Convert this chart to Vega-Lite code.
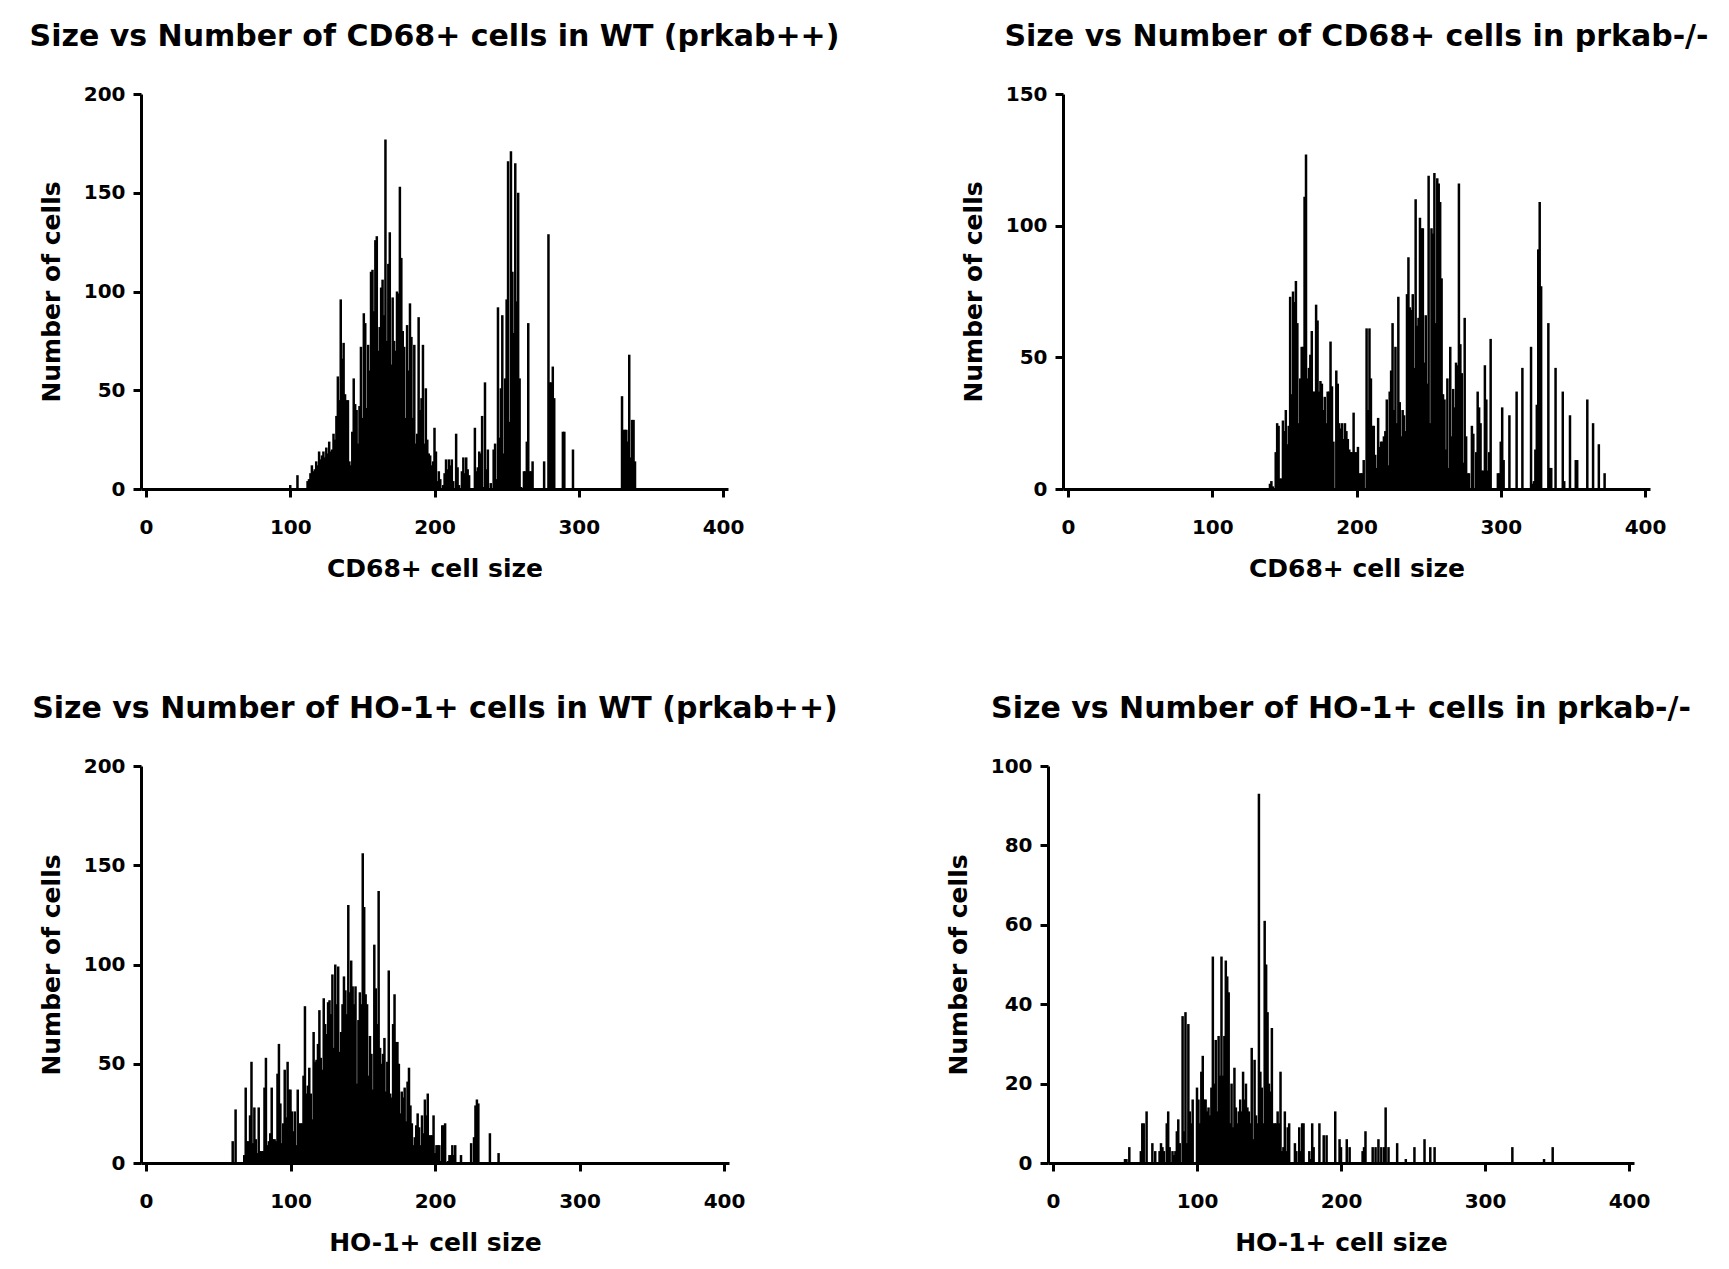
{
  "$schema": "https://vega.github.io/schema/vega-lite/v6.json",
  "padding": {"left": 29, "top": 22, "right": 5, "bottom": 5},
  "background": "white",
  "datasets": {
    "wt_cd68": [
      {"size":100,"count":2},{"size":105,"count":7},{"size":112,"count":4},{"size":113,"count":5},{"size":114,"count":8},{"size":115,"count":12},{"size":116,"count":9},{"size":117,"count":10},{"size":118,"count":14},{"size":119,"count":12},{"size":120,"count":19},{"size":121,"count":15},{"size":122,"count":17},{"size":123,"count":19},{"size":124,"count":16},{"size":125,"count":21},{"size":126,"count":18},{"size":127,"count":24},{"size":128,"count":19},{"size":129,"count":20},{"size":130,"count":28},{"size":131,"count":25},{"size":132,"count":37},{"size":133,"count":57},{"size":134,"count":45},{"size":135,"count":96},{"size":136,"count":66},{"size":137,"count":74},{"size":138,"count":48},{"size":139,"count":45},{"size":140,"count":45},{"size":141,"count":14},{"size":142,"count":12},{"size":143,"count":29},{"size":144,"count":56},{"size":145,"count":43},{"size":146,"count":40},{"size":147,"count":23},{"size":148,"count":42},{"size":149,"count":72},{"size":150,"count":36},{"size":151,"count":89},{"size":152,"count":84},{"size":153,"count":41},{"size":154,"count":73},{"size":155,"count":60},{"size":156,"count":110},{"size":157,"count":111},{"size":158,"count":90},{"size":159,"count":126},{"size":160,"count":128},{"size":161,"count":70},{"size":162,"count":82},{"size":163,"count":102},{"size":164,"count":106},{"size":165,"count":88},{"size":166,"count":177},{"size":167,"count":75},{"size":168,"count":114},{"size":169,"count":130},{"size":170,"count":63},{"size":171,"count":97},{"size":172,"count":75},{"size":173,"count":70},{"size":174,"count":100},{"size":175,"count":99},{"size":176,"count":153},{"size":177,"count":117},{"size":178,"count":80},{"size":179,"count":72},{"size":180,"count":36},{"size":181,"count":83},{"size":182,"count":60},{"size":183,"count":94},{"size":184,"count":77},{"size":185,"count":36},{"size":186,"count":73},{"size":187,"count":23},{"size":188,"count":28},{"size":189,"count":87},{"size":190,"count":40},{"size":191,"count":46},{"size":192,"count":73},{"size":193,"count":23},{"size":194,"count":51},{"size":195,"count":25},{"size":196,"count":18},{"size":197,"count":17},{"size":198,"count":12},{"size":199,"count":14},{"size":200,"count":31},{"size":201,"count":19},{"size":202,"count":4},{"size":203,"count":9},{"size":204,"count":5},{"size":206,"count":2},{"size":207,"count":8},{"size":208,"count":15},{"size":209,"count":10},{"size":210,"count":15},{"size":211,"count":12},{"size":212,"count":15},{"size":213,"count":4},{"size":215,"count":28},{"size":216,"count":11},{"size":217,"count":2},{"size":219,"count":9},{"size":220,"count":16},{"size":221,"count":8},{"size":222,"count":16},{"size":223,"count":10},{"size":224,"count":7},{"size":228,"count":31},{"size":229,"count":9},{"size":230,"count":11},{"size":231,"count":19},{"size":232,"count":18},{"size":233,"count":37},{"size":234,"count":1},{"size":235,"count":54},{"size":236,"count":10},{"size":237,"count":20},{"size":239,"count":3},{"size":241,"count":20},{"size":242,"count":23},{"size":243,"count":5},{"size":244,"count":92},{"size":245,"count":26},{"size":246,"count":51},{"size":247,"count":88},{"size":248,"count":18},{"size":249,"count":56},{"size":250,"count":96},{"size":251,"count":166},{"size":252,"count":34},{"size":253,"count":171},{"size":254,"count":110},{"size":255,"count":79},{"size":256,"count":165},{"size":257,"count":95},{"size":258,"count":150},{"size":259,"count":56},{"size":260,"count":1},{"size":262,"count":9},{"size":263,"count":9},{"size":264,"count":24},{"size":265,"count":84},{"size":266,"count":9},{"size":267,"count":9},{"size":268,"count":14},{"size":276,"count":14},{"size":279,"count":129},{"size":280,"count":54},{"size":281,"count":54},{"size":282,"count":62},{"size":283,"count":46},{"size":289,"count":29},{"size":290,"count":29},{"size":296,"count":20},{"size":330,"count":47},{"size":331,"count":30},{"size":332,"count":30},{"size":333,"count":30},{"size":334,"count":24},{"size":335,"count":68},{"size":336,"count":16},{"size":337,"count":35},{"size":338,"count":35},{"size":339,"count":14}
    ],
    "ko_cd68": [
      {"size":140,"count":2},{"size":141,"count":3},{"size":142,"count":1},{"size":144,"count":14},{"size":145,"count":25},{"size":146,"count":24},{"size":147,"count":4},{"size":148,"count":4},{"size":149,"count":26},{"size":150,"count":22},{"size":151,"count":30},{"size":152,"count":17},{"size":153,"count":24},{"size":154,"count":73},{"size":155,"count":36},{"size":156,"count":75},{"size":157,"count":71},{"size":158,"count":79},{"size":159,"count":63},{"size":160,"count":25},{"size":161,"count":42},{"size":162,"count":54},{"size":163,"count":54},{"size":164,"count":111},{"size":165,"count":127},{"size":166,"count":42},{"size":167,"count":46},{"size":168,"count":51},{"size":169,"count":60},{"size":170,"count":37},{"size":171,"count":37},{"size":172,"count":70},{"size":173,"count":64},{"size":174,"count":37},{"size":175,"count":41},{"size":176,"count":40},{"size":177,"count":30},{"size":178,"count":35},{"size":179,"count":25},{"size":180,"count":37},{"size":181,"count":37},{"size":182,"count":56},{"size":183,"count":39},{"size":184,"count":18},{"size":186,"count":45},{"size":187,"count":40},{"size":188,"count":25},{"size":189,"count":23},{"size":190,"count":25},{"size":191,"count":19},{"size":192,"count":25},{"size":193,"count":22},{"size":194,"count":19},{"size":195,"count":15},{"size":196,"count":14},{"size":197,"count":14},{"size":198,"count":29},{"size":199,"count":14},{"size":200,"count":14},{"size":201,"count":16},{"size":202,"count":6},{"size":203,"count":6},{"size":204,"count":6},{"size":205,"count":11},{"size":207,"count":61},{"size":208,"count":30},{"size":209,"count":61},{"size":210,"count":42},{"size":211,"count":24},{"size":212,"count":24},{"size":213,"count":13},{"size":214,"count":8},{"size":215,"count":27},{"size":216,"count":16},{"size":217,"count":18},{"size":218,"count":18},{"size":219,"count":20},{"size":220,"count":22},{"size":221,"count":34},{"size":222,"count":9},{"size":223,"count":37},{"size":224,"count":45},{"size":225,"count":63},{"size":226,"count":30},{"size":227,"count":54},{"size":228,"count":25},{"size":229,"count":73},{"size":230,"count":33},{"size":231,"count":20},{"size":232,"count":30},{"size":233,"count":28},{"size":234,"count":22},{"size":235,"count":74},{"size":236,"count":88},{"size":237,"count":69},{"size":238,"count":68},{"size":239,"count":74},{"size":240,"count":46},{"size":241,"count":110},{"size":242,"count":62},{"size":243,"count":65},{"size":244,"count":103},{"size":245,"count":99},{"size":246,"count":99},{"size":247,"count":48},{"size":248,"count":66},{"size":249,"count":40},{"size":250,"count":119},{"size":251,"count":25},{"size":252,"count":99},{"size":253,"count":97},{"size":254,"count":120},{"size":255,"count":63},{"size":256,"count":118},{"size":257,"count":116},{"size":258,"count":109},{"size":259,"count":80},{"size":260,"count":36},{"size":261,"count":34},{"size":262,"count":15},{"size":263,"count":42},{"size":264,"count":8},{"size":265,"count":54},{"size":266,"count":20},{"size":267,"count":38},{"size":268,"count":31},{"size":269,"count":48},{"size":270,"count":47},{"size":271,"count":116},{"size":272,"count":55},{"size":273,"count":44},{"size":274,"count":10},{"size":275,"count":65},{"size":276,"count":20},{"size":277,"count":6},{"size":278,"count":6},{"size":280,"count":24},{"size":281,"count":21},{"size":283,"count":14},{"size":284,"count":37},{"size":285,"count":31},{"size":286,"count":25},{"size":287,"count":7},{"size":288,"count":7},{"size":289,"count":47},{"size":290,"count":34},{"size":291,"count":7},{"size":292,"count":14},{"size":293,"count":57},{"size":298,"count":6},{"size":299,"count":6},{"size":300,"count":18},{"size":301,"count":31},{"size":302,"count":11},{"size":306,"count":28},{"size":311,"count":37},{"size":315,"count":46},{"size":321,"count":54},{"size":322,"count":2},{"size":323,"count":3},{"size":324,"count":15},{"size":325,"count":32},{"size":326,"count":91},{"size":327,"count":109},{"size":328,"count":77},{"size":333,"count":63},{"size":334,"count":8},{"size":335,"count":8},{"size":338,"count":46},{"size":343,"count":37},{"size":344,"count":3},{"size":348,"count":28},{"size":352,"count":11},{"size":353,"count":11},{"size":360,"count":34},{"size":364,"count":25},{"size":368,"count":17},{"size":372,"count":6}
    ],
    "wt_ho1": [
      {"size":60,"count":11},{"size":62,"count":27},{"size":68,"count":4},{"size":69,"count":38},{"size":70,"count":11},{"size":71,"count":11},{"size":72,"count":24},{"size":73,"count":51},{"size":74,"count":10},{"size":75,"count":28},{"size":76,"count":12},{"size":77,"count":5},{"size":78,"count":28},{"size":79,"count":6},{"size":80,"count":6},{"size":81,"count":6},{"size":82,"count":38},{"size":83,"count":53},{"size":84,"count":9},{"size":85,"count":11},{"size":86,"count":15},{"size":87,"count":38},{"size":88,"count":12},{"size":89,"count":12},{"size":90,"count":11},{"size":91,"count":45},{"size":92,"count":60},{"size":93,"count":30},{"size":94,"count":10},{"size":95,"count":20},{"size":96,"count":47},{"size":97,"count":23},{"size":98,"count":51},{"size":99,"count":37},{"size":100,"count":37},{"size":101,"count":26},{"size":102,"count":16},{"size":103,"count":26},{"size":104,"count":9},{"size":105,"count":37},{"size":106,"count":20},{"size":107,"count":20},{"size":108,"count":20},{"size":109,"count":44},{"size":110,"count":79},{"size":111,"count":35},{"size":112,"count":39},{"size":113,"count":48},{"size":114,"count":35},{"size":115,"count":22},{"size":116,"count":66},{"size":117,"count":51},{"size":118,"count":52},{"size":119,"count":60},{"size":120,"count":77},{"size":121,"count":53},{"size":122,"count":47},{"size":123,"count":83},{"size":124,"count":70},{"size":125,"count":65},{"size":126,"count":81},{"size":127,"count":82},{"size":128,"count":75},{"size":129,"count":95},{"size":130,"count":58},{"size":131,"count":100},{"size":132,"count":80},{"size":133,"count":99},{"size":134,"count":56},{"size":135,"count":66},{"size":136,"count":80},{"size":137,"count":94},{"size":138,"count":87},{"size":139,"count":75},{"size":140,"count":130},{"size":141,"count":86},{"size":142,"count":102},{"size":143,"count":89},{"size":144,"count":80},{"size":145,"count":89},{"size":146,"count":40},{"size":147,"count":72},{"size":148,"count":86},{"size":149,"count":80},{"size":150,"count":156},{"size":151,"count":129},{"size":152,"count":85},{"size":153,"count":80},{"size":154,"count":44},{"size":155,"count":64},{"size":156,"count":55},{"size":157,"count":37},{"size":158,"count":110},{"size":159,"count":88},{"size":160,"count":70},{"size":161,"count":137},{"size":162,"count":58},{"size":163,"count":50},{"size":164,"count":55},{"size":165,"count":63},{"size":166,"count":36},{"size":167,"count":51},{"size":168,"count":97},{"size":169,"count":35},{"size":170,"count":33},{"size":171,"count":70},{"size":172,"count":85},{"size":173,"count":61},{"size":174,"count":61},{"size":175,"count":50},{"size":176,"count":25},{"size":177,"count":36},{"size":178,"count":33},{"size":179,"count":38},{"size":180,"count":21},{"size":181,"count":41},{"size":182,"count":48},{"size":183,"count":29},{"size":184,"count":20},{"size":185,"count":9},{"size":186,"count":13},{"size":187,"count":19},{"size":188,"count":25},{"size":189,"count":18},{"size":190,"count":9},{"size":191,"count":24},{"size":192,"count":15},{"size":193,"count":32},{"size":194,"count":24},{"size":195,"count":35},{"size":196,"count":14},{"size":197,"count":14},{"size":198,"count":14},{"size":199,"count":24},{"size":200,"count":5},{"size":201,"count":9},{"size":202,"count":9},{"size":203,"count":9},{"size":204,"count":1},{"size":205,"count":19},{"size":206,"count":19},{"size":207,"count":20},{"size":209,"count":1},{"size":210,"count":4},{"size":211,"count":4},{"size":212,"count":9},{"size":213,"count":4},{"size":214,"count":9},{"size":218,"count":4},{"size":225,"count":10},{"size":227,"count":13},{"size":228,"count":29},{"size":229,"count":32},{"size":230,"count":30},{"size":238,"count":15},{"size":244,"count":5}
    ],
    "ko_ho1": [
      {"size":50,"count":1},{"size":51,"count":1},{"size":53,"count":4},{"size":61,"count":3},{"size":62,"count":10},{"size":63,"count":10},{"size":65,"count":13},{"size":69,"count":5},{"size":71,"count":3},{"size":74,"count":3},{"size":75,"count":5},{"size":76,"count":4},{"size":77,"count":3},{"size":79,"count":10},{"size":80,"count":13},{"size":81,"count":4},{"size":83,"count":3},{"size":84,"count":2},{"size":85,"count":3},{"size":86,"count":8},{"size":87,"count":11},{"size":88,"count":5},{"size":90,"count":37},{"size":91,"count":8},{"size":92,"count":38},{"size":93,"count":5},{"size":94,"count":35},{"size":95,"count":13},{"size":96,"count":10},{"size":97,"count":16},{"size":100,"count":19},{"size":101,"count":16},{"size":102,"count":10},{"size":103,"count":23},{"size":104,"count":27},{"size":105,"count":16},{"size":106,"count":16},{"size":107,"count":13},{"size":108,"count":14},{"size":109,"count":12},{"size":110,"count":19},{"size":111,"count":52},{"size":112,"count":20},{"size":113,"count":31},{"size":114,"count":13},{"size":115,"count":32},{"size":116,"count":22},{"size":117,"count":52},{"size":118,"count":22},{"size":119,"count":32},{"size":120,"count":51},{"size":121,"count":47},{"size":122,"count":43},{"size":123,"count":10},{"size":124,"count":20},{"size":125,"count":9},{"size":126,"count":24},{"size":127,"count":14},{"size":128,"count":10},{"size":129,"count":13},{"size":130,"count":16},{"size":131,"count":13},{"size":132,"count":23},{"size":133,"count":16},{"size":134,"count":20},{"size":135,"count":14},{"size":136,"count":13},{"size":137,"count":10},{"size":138,"count":29},{"size":139,"count":6},{"size":140,"count":26},{"size":141,"count":12},{"size":142,"count":10},{"size":143,"count":93},{"size":144,"count":23},{"size":145,"count":19},{"size":146,"count":10},{"size":147,"count":61},{"size":148,"count":50},{"size":149,"count":38},{"size":150,"count":20},{"size":151,"count":18},{"size":152,"count":34},{"size":153,"count":10},{"size":154,"count":10},{"size":155,"count":10},{"size":156,"count":13},{"size":157,"count":10},{"size":158,"count":23},{"size":159,"count":3},{"size":160,"count":4},{"size":161,"count":13},{"size":162,"count":3},{"size":163,"count":9},{"size":164,"count":10},{"size":168,"count":5},{"size":169,"count":3},{"size":171,"count":9},{"size":172,"count":3},{"size":173,"count":10},{"size":174,"count":10},{"size":178,"count":3},{"size":179,"count":1},{"size":180,"count":10},{"size":181,"count":4},{"size":185,"count":10},{"size":188,"count":7},{"size":190,"count":7},{"size":196,"count":13},{"size":199,"count":6},{"size":200,"count":4},{"size":204,"count":6},{"size":206,"count":4},{"size":215,"count":3},{"size":216,"count":4},{"size":217,"count":8},{"size":222,"count":4},{"size":224,"count":4},{"size":226,"count":6},{"size":228,"count":4},{"size":230,"count":4},{"size":231,"count":14},{"size":233,"count":4},{"size":239,"count":5},{"size":245,"count":1},{"size":251,"count":4},{"size":258,"count":6},{"size":262,"count":4},{"size":265,"count":4},{"size":319,"count":4},{"size":341,"count":1},{"size":347,"count":4}
    ]
  },
  "spacing": 113,
  "vconcat": [
    {
      "bounds": "flush",
      "spacing": 335,
      "hconcat": [
        {
          "title": "Size vs Number of CD68+ cells in WT (prkab++)",
          "width": 587, "height": 395,
          "data": {"name": "wt_cd68"},
          "mark": {"type": "bar", "color": "black", "width": 2.5},
          "encoding": {
            "x": {"field": "size", "type": "quantitative", "scale": {"domain": [0, 400], "nice": false}, "axis": {"title": "CD68+ cell size", "values": [0, 100, 200, 300, 400]}},
            "y": {"field": "count", "type": "quantitative", "scale": {"domain": [0, 200], "nice": false}, "axis": {"title": "Number of cells", "values": [0, 50, 100, 150, 200]}}
          }
        },
        {
          "title": "Size vs Number of CD68+ cells in prkab-/-",
          "width": 587, "height": 395,
          "data": {"name": "ko_cd68"},
          "mark": {"type": "bar", "color": "black", "width": 2.5},
          "encoding": {
            "x": {"field": "size", "type": "quantitative", "scale": {"domain": [0, 400], "nice": false}, "axis": {"title": "CD68+ cell size", "values": [0, 100, 200, 300, 400]}},
            "y": {"field": "count", "type": "quantitative", "scale": {"domain": [0, 150], "nice": false}, "axis": {"title": "Number of cells", "values": [0, 50, 100, 150]}}
          }
        }
      ]
    },
    {
      "bounds": "flush",
      "spacing": 319,
      "hconcat": [
        {
          "title": "Size vs Number of HO-1+ cells in WT (prkab++)",
          "width": 588, "height": 397,
          "data": {"name": "wt_ho1"},
          "mark": {"type": "bar", "color": "black", "width": 2.5},
          "encoding": {
            "x": {"field": "size", "type": "quantitative", "scale": {"domain": [0, 400], "nice": false}, "axis": {"title": "HO-1+ cell size", "values": [0, 100, 200, 300, 400]}},
            "y": {"field": "count", "type": "quantitative", "scale": {"domain": [0, 200], "nice": false}, "axis": {"title": "Number of cells", "values": [0, 50, 100, 150, 200]}}
          }
        },
        {
          "title": "Size vs Number of HO-1+ cells in prkab-/-",
          "width": 586, "height": 397,
          "data": {"name": "ko_ho1"},
          "mark": {"type": "bar", "color": "black", "width": 2.5},
          "encoding": {
            "x": {"field": "size", "type": "quantitative", "scale": {"domain": [0, 400], "nice": false}, "axis": {"title": "HO-1+ cell size", "values": [0, 100, 200, 300, 400]}},
            "y": {"field": "count", "type": "quantitative", "scale": {"domain": [0, 100], "nice": false}, "axis": {"title": "Number of cells", "values": [0, 20, 40, 60, 80, 100]}}
          }
        }
      ]
    }
  ],
  "config": {
    "view": {"stroke": null},
    "axis": {
      "grid": false,
      "domainColor": "black", "domainWidth": 3,
      "tickColor": "black", "tickWidth": 3, "tickSize": 8,
      "labelFont": "DejaVu Sans", "labelFontWeight": "bold", "labelFontSize": 20, "labelColor": "black",
      "labelFlush": false, "labelOverlap": false,
      "titleFont": "DejaVu Sans", "titleFontWeight": "bold", "titleFontSize": 25, "titleColor": "black"
    },
    "axisX": {"labelPadding": 20, "titlePadding": 19},
    "axisY": {"labelPadding": 8, "titlePadding": 19},
    "title": {"font": "DejaVu Sans", "fontWeight": "bold", "fontSize": 30, "color": "black", "anchor": "middle", "frame": "group", "baseline": "alphabetic", "offset": 32}
  }
}
